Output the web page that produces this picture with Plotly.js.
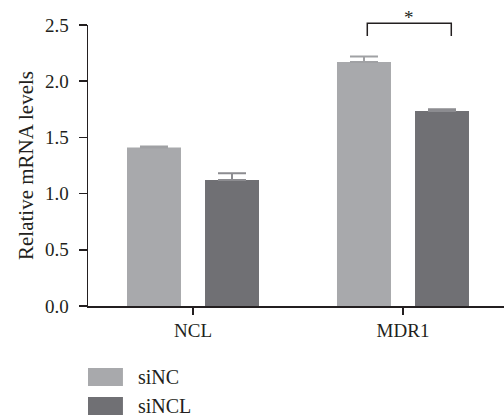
<!DOCTYPE html>
<html>
<head>
<meta charset="utf-8">
<script src="https://cdn.plot.ly/plotly-3.0.1.min.js"></script>
<style>html,body{margin:0;padding:0;background:#fff;}#chart{width:504px;height:419px;}</style>
</head>
<body>
<div id="chart"></div>
<script>
const categories = ["NCL", "MDR1"];
const seriesNames = ["siNC", "siNCL"];
const siNC = [1.41, 2.17];
const siNC_err = [0.01, 0.05];
const siNCL = [1.12, 1.735];
const siNCL_err = [0.06, 0.015];
const yTicks = [0, 0.5, 1.0, 1.5, 2.0, 2.5];
const yTickLabels = ["0.0", "0.5", "1.0", "1.5", "2.0", "2.5"];
const sigLabel = "*";

const colors = ["#a8a9ac", "#707074"];
const errColors = ["#a0a1a4", "#8c8c90"];
const fontFam = "Liberation Serif, Times New Roman, serif";
const textColor = "#231f20";
const fs = 19;

const traces = [
  {type: "bar", name: seriesNames[0], x: categories, y: siNC,
   marker: {color: colors[0]},
   error_y: {type: "data", array: siNC_err, symmetric: false, arrayminus: [0,0], color: errColors[0], thickness: 2, width: 14},
   showlegend: false},
  {type: "bar", name: seriesNames[1], x: categories, y: siNCL,
   marker: {color: colors[1]},
   error_y: {type: "data", array: siNCL_err, symmetric: false, arrayminus: [0,0], color: errColors[1], thickness: 2, width: 14},
   showlegend: false}
];

// manual legend
const shapes = [];
const annotations = [];
const legY = [[-0.2206, -0.2847], [-0.3238, -0.3879]];
seriesNames.forEach((n, i) => {
  shapes.push({type: "rect", xref: "paper", yref: "paper", x0: 0, x1: 0.084, y0: legY[i][1], y1: legY[i][0],
    fillcolor: colors[i], line: {width: 0}});
  annotations.push({xref: "paper", yref: "paper", x: 0.115, y: (legY[i][0] + legY[i][1]) / 2,
    xanchor: "left", yanchor: "middle", text: n, showarrow: false,
    font: {family: fontFam, size: 20, color: textColor}});
});
// significance bracket
shapes.push({type: "path", xref: "x", yref: "paper",
  path: "M 0.83,0.961 L 0.83,1.006 L 1.23,1.006 L 1.23,0.961",
  line: {color: "#231f20", width: 1.5}});
annotations.push({xref: "x", yref: "paper", x: 1.03, y: 1.026, yanchor: "middle", text: sigLabel, showarrow: false,
  font: {family: fontFam, size: fs, color: textColor}});

const layout = {
  width: 504, height: 419,
  margin: {l: 88, r: 0, t: 25, b: 113, pad: 0},
  paper_bgcolor: "#fff", plot_bgcolor: "#fff",
  barmode: "group", bargap: 0.257, bargroupgap: 0.308,
  font: {family: fontFam, size: fs, color: textColor},
  xaxis: {range: [-0.5, 1.481], showline: true, linecolor: "#231f20", linewidth: 1.5,
    ticks: "outside", ticklen: 7, tickwidth: 1.5, tickcolor: "#231f20", ticklabelstandoff: 0,
    showgrid: false, zeroline: false, fixedrange: true,
    tickfont: {family: fontFam, size: fs, color: textColor}},
  yaxis: {range: [0, 2.5], showline: true, linecolor: "#231f20", linewidth: 1.5,
    ticks: "outside", ticklen: 8, tickwidth: 1.5, tickcolor: "#231f20", ticklabelstandoff: 6,
    tickvals: yTicks, ticktext: yTickLabels, showgrid: false, zeroline: false,
    tickfont: {family: fontFam, size: fs, color: textColor},
    title: {text: "Relative mRNA levels", standoff: 5, font: {family: fontFam, size: 21, color: textColor}}},
  shapes: shapes, annotations: annotations, showlegend: false
};

Plotly.newPlot("chart", traces, layout, {displayModeBar: false, staticPlot: true});
</script>
</body>
</html>
